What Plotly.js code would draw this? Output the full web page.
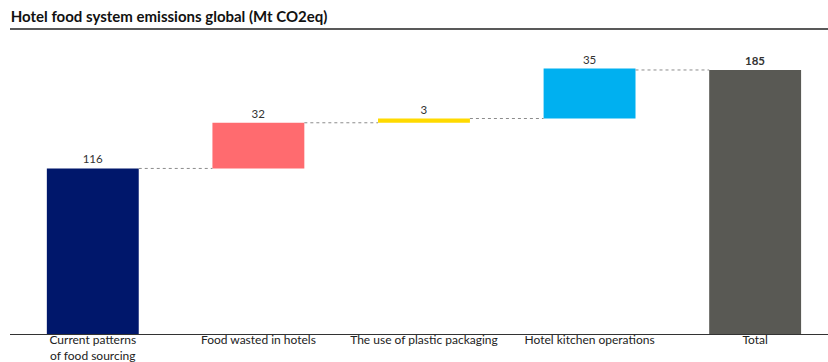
<!DOCTYPE html>
<html>
<head>
<meta charset="utf-8">
<script src="https://cdn.plot.ly/plotly-3.0.1.min.js"></script>
<style>
  html, body { margin: 0; padding: 0; background: #fff; }
  #chart { width: 828px; height: 362px; }
</style>
</head>
<body>
<div id="chart"></div>
<script>
// Hotel food system emissions, Mt CO2eq
const categories = [
  "Current patterns<br>of food sourcing",
  "Food wasted in hotels",
  "The use of plastic packaging",
  "Hotel kitchen operations",
  "Total"
];
const stepValues = [116, 32, 3, 35];
const totalValue = 185;
const barColors = ["#00176B", "#FF6B6F", "#FFDA00", "#00B0F0", "#595954"];

// Floating bases for the waterfall steps, then the total from zero
const bases = [];
const heights = [];
let running = 0;
stepValues.forEach(v => { bases.push(running); heights.push(v); running += v; });
bases.push(0);
heights.push(totalValue);

const xs = categories.map((_, i) => i);
const labels = heights.map((v, i) => i === heights.length - 1 ? "<b>" + v + "</b>" : String(v));

const barWidth = 0.555;
const fontFamily = "Lato, 'Open Sans', sans-serif";

const bars = {
  type: "bar",
  x: xs,
  y: heights,
  base: bases,
  width: barWidth,
  marker: { color: barColors, line: { width: 0 } },
  text: labels,
  textposition: "outside",
  cliponaxis: false,
  textfont: { family: fontFamily, size: 11.5, color: "#333333" },
  hoverinfo: "skip"
};

// Dotted connectors between consecutive bar ends
const shapes = [];
for (let i = 0; i < heights.length - 1; i++) {
  const level = i < stepValues.length - 1 ? bases[i] + heights[i] : totalValue;
  shapes.push({
    type: "line", xref: "x", yref: "y",
    x0: xs[i] + barWidth / 2, x1: xs[i + 1] - barWidth / 2,
    y0: level, y1: level,
    line: { color: "#8c8c8c", width: 1, dash: "dot" }
  });
}
// Rule under the heading
shapes.push({
  type: "line", xref: "paper", yref: "paper",
  x0: 0, x1: 1, y0: 1.037, y1: 1.037,
  line: { color: "#222222", width: 1.5 }
});

const layout = {
  width: 828,
  height: 362,
  margin: { l: 10, r: 0, t: 40, b: 28 },
  paper_bgcolor: "#ffffff",
  plot_bgcolor: "#ffffff",
  showlegend: false,
  title: {
    text: "<b>Hotel food system emissions global (Mt CO2eq)</b>",
    xref: "container", x: 0.013, xanchor: "left",
    yref: "container", y: 0.955, yanchor: "middle",
    font: { family: fontFamily, size: 15, color: "#111111" }
  },
  xaxis: {
    range: [-0.5, 4.44],
    tickmode: "array",
    tickvals: xs,
    ticktext: categories,
    ticks: "",
    ticklabelstandoff: -5,
    showgrid: false,
    zeroline: false,
    showline: true,
    linecolor: "#333333",
    linewidth: 1,
    tickfont: { family: fontFamily, size: 12, color: "#222222" },
    fixedrange: true
  },
  yaxis: {
    range: [0, 206],
    visible: false,
    showgrid: false,
    zeroline: false,
    fixedrange: true
  },
  shapes: shapes
};

Plotly.newPlot("chart", [bars], layout, { displayModeBar: false, staticPlot: true });
</script>
</body>
</html>
